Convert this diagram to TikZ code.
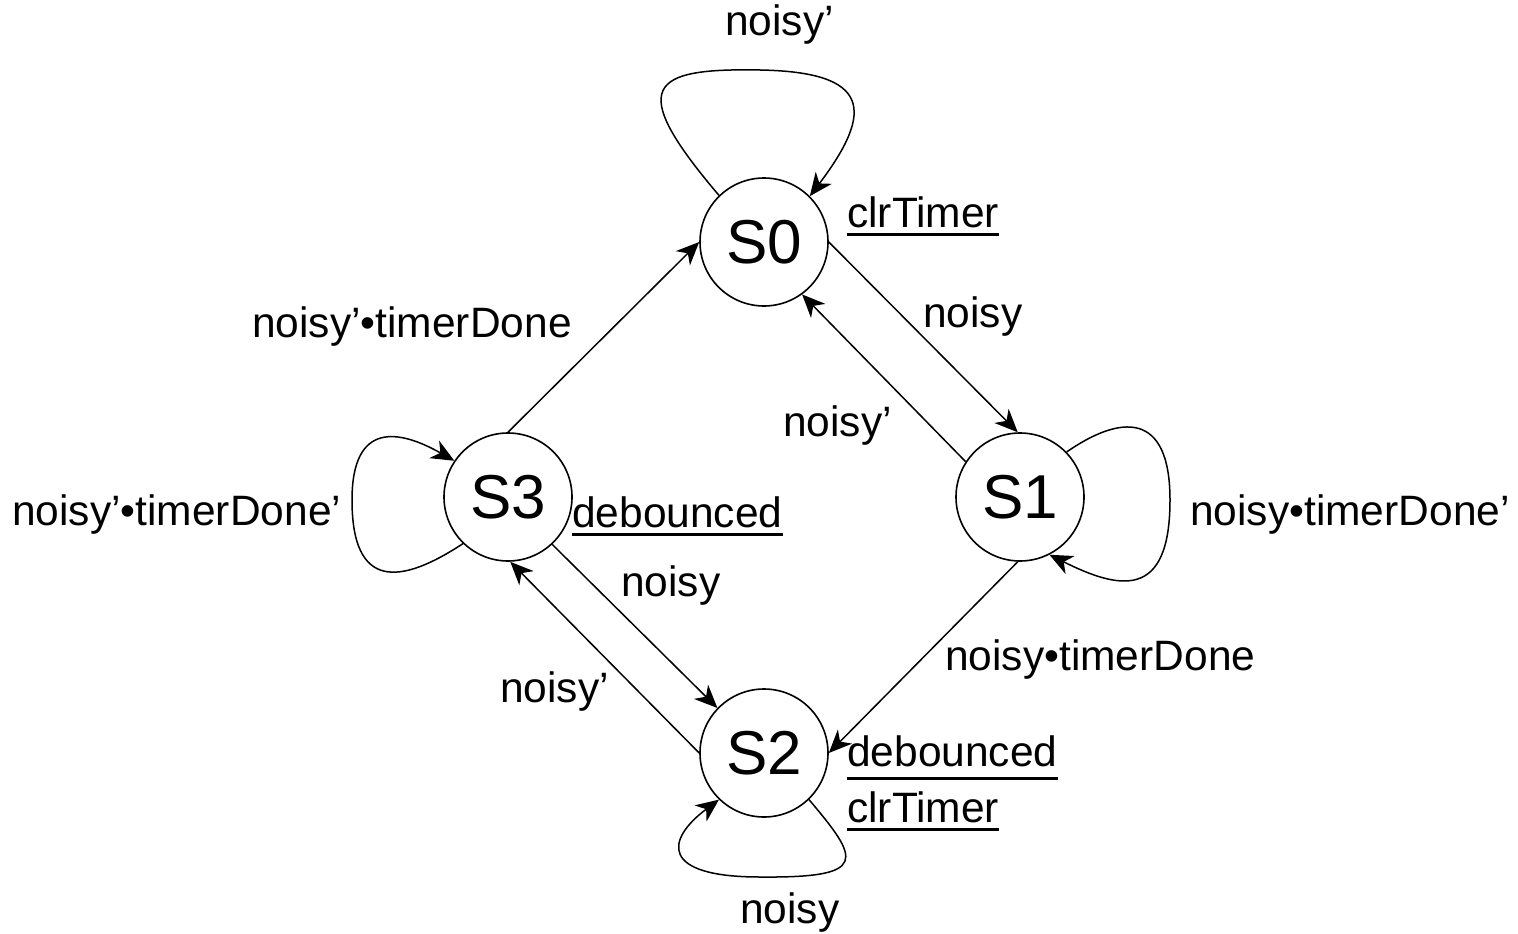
\documentclass[tikz,border=0pt]{standalone}
\usepackage{fontspec}
\setmainfont{Liberation Sans}
\usetikzlibrary{arrows.meta}
% word with a thick rule set below its baseline
\newcommand\ulword[2][6pt]{\vtop{\hbox{#2}\kern#1\hrule height 3pt}}

\begin{document}
\begin{tikzpicture}[x=1pt,y=-1pt,
  state/.style={circle,draw,line width=1.6pt,minimum size=128pt,inner sep=0pt,
    font=\fontsize{62}{70}\selectfont},
  lbl/.style={anchor=base west,inner sep=0pt,font=\fontsize{42.5}{50}\selectfont},
  trans/.style={-{Stealth[length=23pt,width=20pt,inset=7pt]},line width=1.5pt}]
\useasboundingbox (0,0) rectangle (1518,934);

% states
\node[state] (S0) at (764,242) {S0};
\node[state] (S1) at (1020,497) {S1};
\node[state] (S2) at (764,753) {S2};
\node[state] (S3) at (508,497) {S3};

% transitions between states
\draw[trans] (S0.0) -- (S1.92);
\draw[trans] (S1.147) -- (S0.-54);
\draw[trans] (S3.90) -- (S0.180);
\draw[trans] (S1.268) -- (S2.0);
\draw[trans] (S3.-47) -- (S2.136);
\draw[trans] (S2.180) -- (S3.-88);

% self loops
\draw[trans] (S0.134) .. controls (625,85) and (650,68) .. (760,70)
  .. controls (870,72) and (875,110) .. (S0.45);
\draw[trans] (S1.44) .. controls (1120,415) and (1170,410) .. (1170,500)
  .. controls (1170,600) and (1120,590) .. (S1.-63);
\draw[trans] (S3.226) .. controls (400,585) and (352,590) .. (352,500)
  .. controls (352,420) and (400,430) .. (S3.146);
\draw[trans] (S2.-46) .. controls (860,860) and (870,878) .. (760,877)
  .. controls (660,877) and (665,840) .. (S2.-134);

% transition conditions
\node[lbl] (c00) at (725,36) {noisy’};
\node[lbl] (c01) at (923,327) {noisy};
\node[lbl] (c10) at (783,436) {noisy’};
\node[lbl] (c11) at (1190,525) {noisy•timerDone’};
\node[lbl] (c12) at (945,670) {noisy•timerDone};
\node[lbl] (c22) at (740,923) {noisy};
\node[lbl] (c23) at (500,702) {noisy’};
\node[lbl] (c32) at (621,596) {noisy};
\node[lbl] (c33) at (12,525) {noisy’•timerDone’};
\node[lbl] (c30) at (252,337) {noisy’•timerDone};

% state outputs
\node[lbl] (o0) at (847,227) {\ulword{clrTimer}};
\node[lbl] (o3) at (572,527) {\ulword{debounced}};
\node[lbl] (o2a) at (847,766) {\ulword[11pt]{debounced}};
\node[lbl] (o2b) at (847,822) {\ulword{clrTimer}};
\end{tikzpicture}
\end{document}
